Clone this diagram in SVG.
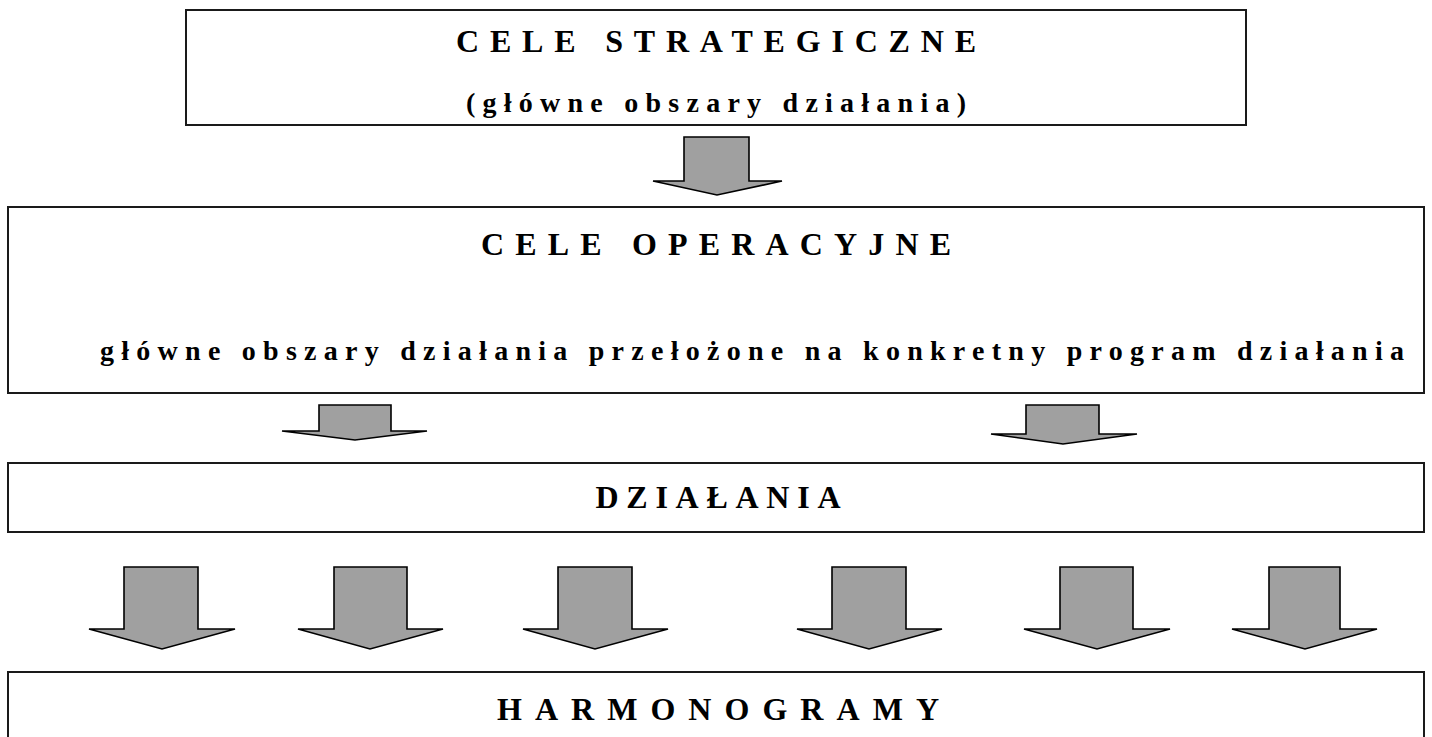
<svg xmlns="http://www.w3.org/2000/svg" width="1432" height="737" viewBox="0 0 1432 737">
<style>
.box{fill:#ffffff;stroke:#1a1a1a;stroke-width:2}
.arr{fill:#a0a0a0;stroke:#000000;stroke-width:1.6;stroke-linejoin:miter}
.t{font-family:"Liberation Serif","Times New Roman",serif;font-weight:bold;fill:#000000;text-anchor:middle}
.cap{font-size:32px}
.low{font-size:28px}
</style>
<rect width="1432" height="737" fill="#ffffff"/>
<g id="cele-strategiczne">
<rect class="box" x="186" y="10" width="1060" height="115"/>
<text class="t cap" x="716" y="52" textLength="520" lengthAdjust="spacing">CELE STRATEGICZNE</text>
<text class="t low" x="716" y="112" textLength="500" lengthAdjust="spacing">(główne obszary działania)</text>
</g>
<g id="cele-operacyjne">
<rect class="box" x="8" y="207" width="1416" height="186"/>
<text class="t cap" x="716" y="255" textLength="470" lengthAdjust="spacing">CELE OPERACYJNE</text>
<text class="t low" x="752" y="360" textLength="1304" lengthAdjust="spacing">główne obszary działania przełożone na konkretny program działania</text>
</g>
<g id="dzialania">
<rect class="box" x="8" y="463" width="1416" height="69"/>
<text class="t cap" x="718" y="508" textLength="245" lengthAdjust="spacing">DZIAŁANIA</text>
</g>
<g id="harmonogramy">
<rect class="box" x="8" y="672" width="1416" height="100"/>
<text class="t cap" x="718" y="720" textLength="442" lengthAdjust="spacing">HARMONOGRAMY</text>
</g>
<g id="connectors">
<polygon class="arr" points="684,137 749,137 749,181 782,181 717,195 653,181 684,181"/>
<polygon class="arr" points="319,405 391,405 391,431 427,431 355,440 282,431 319,431"/>
<polygon class="arr" points="1026,405 1099,405 1099,434 1137,434 1063,444 991,434 1026,434"/>
<polygon class="arr" points="124,567 198,567 198,629 235,629 162,649 89,629 124,629"/>
<polygon class="arr" points="334,567 407,567 407,629 443,629 370,649 298,629 334,629"/>
<polygon class="arr" points="558,567 632,567 632,629 668,629 595,649 523,629 558,629"/>
<polygon class="arr" points="832,567 906,567 906,629 942,629 869,649 797,629 832,629"/>
<polygon class="arr" points="1060,567 1133,567 1133,629 1170,629 1097,649 1024,629 1060,629"/>
<polygon class="arr" points="1269,567 1340,567 1340,629 1377,629 1305,649 1232,629 1269,629"/>
</g>
</svg>
